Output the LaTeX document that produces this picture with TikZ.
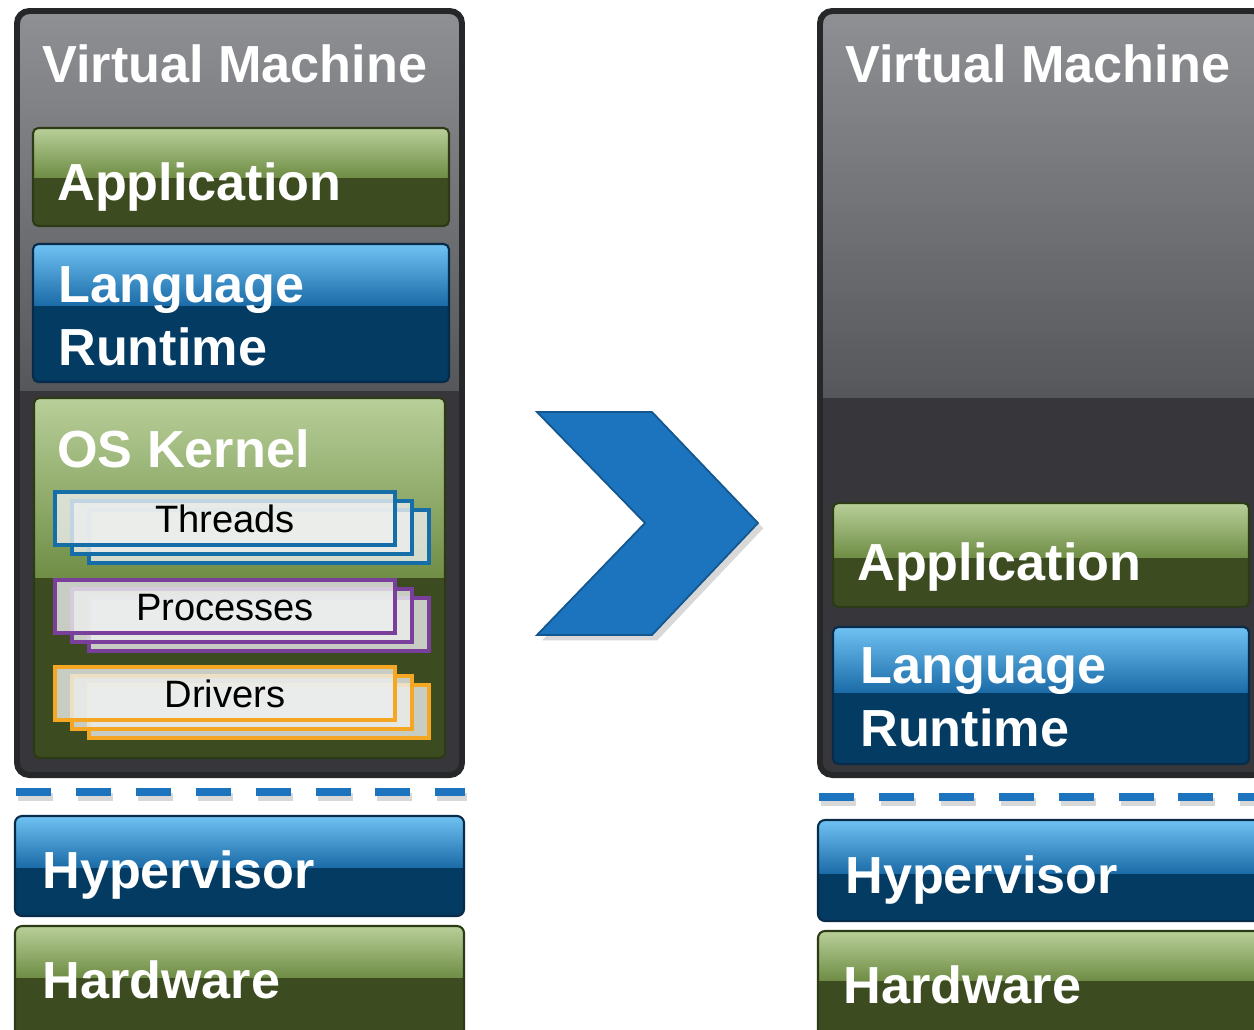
\documentclass[tikz,border=0pt]{standalone}
\usepackage{fontspec}
\setmainfont{Liberation Sans}
\usepackage{tikz}
\usetikzlibrary{shadows}
\usepackage{xcolor}
\definecolor{vmtop}{RGB}{143,144,148}
\definecolor{vmmid}{RGB}{86,87,91}
\definecolor{vmdark}{RGB}{55,55,59}
\definecolor{vmline}{RGB}{38,39,41}
\definecolor{grntop}{RGB}{184,207,153}
\definecolor{grnmid}{RGB}{112,142,70}
\definecolor{grndark}{RGB}{60,76,32}
\definecolor{grnline}{RGB}{45,58,23}
\definecolor{blutop}{RGB}{112,194,243}
\definecolor{blumid}{RGB}{27,108,168}
\definecolor{bludark}{RGB}{4,59,98}
\definecolor{bluline}{RGB}{7,43,73}
\definecolor{arrowblue}{RGB}{27,116,189}
\definecolor{threadblue}{RGB}{22,110,168}
\definecolor{procpurple}{RGB}{122,63,154}
\definecolor{drvorange}{RGB}{245,166,35}
\definecolor{cardgray}{RGB}{236,238,237}
\tikzstyle{layertext} = [anchor=base west, inner sep=0pt, text=white, font=\fontsize{29.7}{35.8}\selectfont\bfseries]
\tikzstyle{cardtext} = [anchor=base, inner sep=0pt, text=black, font=\fontsize{21.7}{26}\selectfont]
\tikzstyle{dashline} = [line width=5.1pt, color=arrowblue, dash pattern=on 19.9pt off 14.2pt]

% glossy layer: x1, y1, x2, y2, split, colour prefix, border width, corner radius
\newcommand{\glosslayer}[8]{%
  \begin{scope}
    \clip[rounded corners=#8] (#1,#2) rectangle (#3,#4);
    \fill[#6dark] (#1,#2) rectangle (#3,#4);
    \shade[top color=#6top, bottom color=#6mid] (#1,#2) rectangle (#3,#5);
  \end{scope}
  \draw[#6line, line width=#7, rounded corners=#8] (#1,#2) rectangle (#3,#4);}

% three stacked cards: node name, colour, text, top of front card
\newcommand{\cardstack}[4]{%
  \foreach \k in {2,1,0}
    \draw[#2, line width=1.8pt, fill=cardgray, fill opacity=0.8]
      (55+17*\k,#4+9*\k) rectangle (395+17*\k,#4+53+9*\k);
  \node[cardtext] (#1) at (225,#4+40) {#3};}

\begin{document}
\begin{tikzpicture}[x=0.02cm, y=-0.02cm]
\useasboundingbox (0,0) rectangle (1254,1029);
\clip (0,0) rectangle (1254,1029);
\fill[white] (0,0) rectangle (1254,1029);

% Left: guest OS inside the VM
\glosslayer{17}{11}{462}{775}{390}{vm}{3.4pt}{7pt}
\glosslayer{33}{128}{449}{226}{177}{grn}{1.2pt}{3pt}
\glosslayer{33}{244}{449}{382}{305}{blu}{1.2pt}{3pt}
\glosslayer{34}{398}{445}{758}{577}{grn}{1.2pt}{3pt}
\node[layertext] (vmL) at (42,82) {Virtual Machine};
\node[layertext] (appL) at (57,200) {Application};
\node[layertext, align=left] (lrL) at (58,365) {Language\\Runtime};
\node[layertext] (osL) at (57,467) {OS Kernel};
\cardstack{threads}{threadblue}{Threads}{492}
\cardstack{procs}{procpurple}{Processes}{580}
\cardstack{drivers}{drvorange}{Drivers}{667}

% Left: below the VM
\draw[dashline, gray, opacity=0.3] (18,797) -- (467,797);
\draw[dashline] (16,792) -- (465,792);
\glosslayer{15}{816}{464}{916}{867}{blu}{1.2pt}{4pt}
\glosslayer{15}{926}{464}{1045}{977}{grn}{1.2pt}{4pt}
\node[layertext] (hypL) at (42,888) {Hypervisor};
\node[layertext] (hwL) at (42,998) {Hardware};

% Chevron
\path[fill=arrowblue, draw=arrowblue!75!black, line width=1pt,
  drop shadow={opacity=0.3, shadow xshift=3pt, shadow yshift=-3pt}]
  (537,412) -- (652,412) -- (758,523) -- (652,635) -- (537,635) -- (645,523) -- cycle;

% Right: runtime straight on the hypervisor
\glosslayer{820}{11}{1265}{775}{397}{vm}{3.4pt}{7pt}
\glosslayer{833}{503}{1249}{607}{557}{grn}{1.2pt}{3pt}
\glosslayer{833}{627}{1249}{764}{692}{blu}{1.2pt}{3pt}
\node[layertext] (vmR) at (845,82) {Virtual Machine};
\node[layertext] (appR) at (857,580) {Application};
\node[layertext, align=left] (lrR) at (860,746) {Language\\Runtime};

\draw[dashline, gray, opacity=0.3] (821,802) -- (1270,802);
\draw[dashline] (819,797) -- (1270,797);
\glosslayer{818}{820}{1275}{921}{873}{blu}{1.2pt}{4pt}
\glosslayer{818}{931}{1275}{1045}{980}{grn}{1.2pt}{4pt}
\node[layertext] (hypR) at (845,893) {Hypervisor};
\node[layertext] (hwR) at (843,1003) {Hardware};
\end{tikzpicture}
\end{document}
